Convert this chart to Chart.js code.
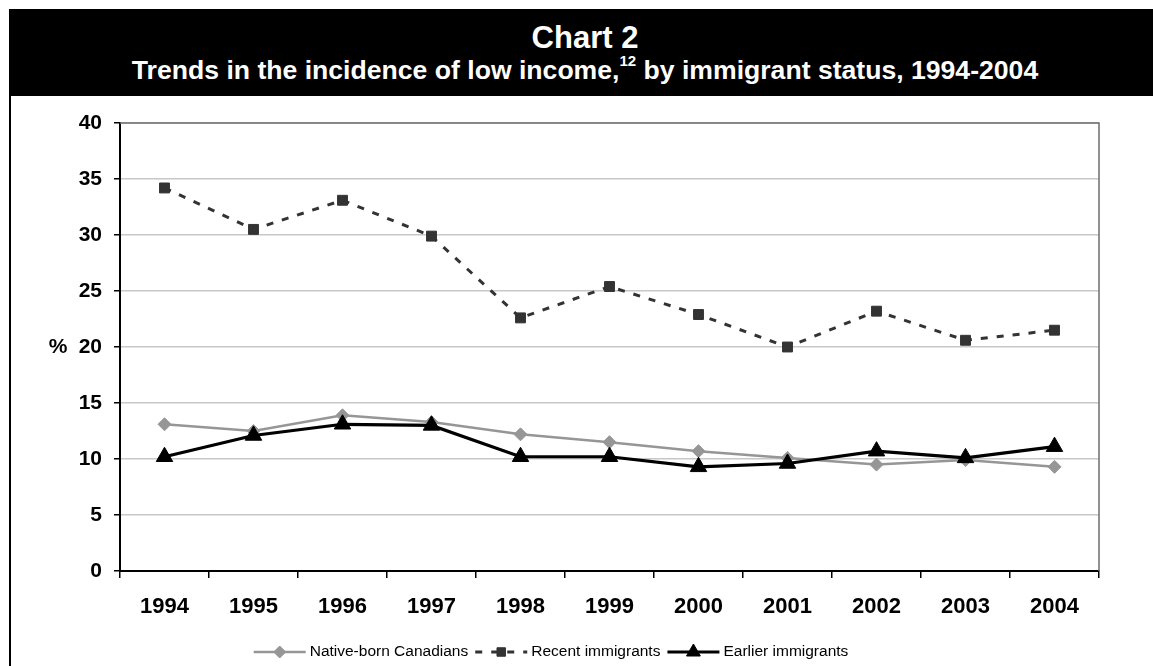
<!DOCTYPE html>
<html>
<head>
<meta charset="utf-8">
<script src="https://cdn.jsdelivr.net/npm/chart.js@4.4.1/dist/chart.umd.min.js"></script>
<style>
  html, body { margin: 0; padding: 0; background: #fff; }
  #wrap { position: relative; width: 1153px; height: 666px; overflow: hidden; font-family: "Liberation Sans", Arial, sans-serif; }
  #c { position: absolute; left: 0; top: 0; }
  #header { position: absolute; left: 9px; top: 9px; width: 1152px; height: 87px; background: #000; color: #fff; font-weight: bold; text-align: center; }
  #header .t1 { position: absolute; left: 0; width: 100%; top: 13px; font-size: 31px; line-height: 31px; white-space: nowrap; }
  #header .t2 { position: absolute; left: 0; width: 100%; top: 48px; font-size: 26.6px; line-height: 27px; white-space: nowrap; }
  #header .sup { position: relative; top: -13px; font-size: 15px; line-height: 0; }
  #leftrule { position: absolute; left: 9px; top: 96px; width: 2px; height: 570px; background: #000; }
</style>
</head>
<body>
<div id="wrap">
  <canvas id="c" width="1153" height="666"></canvas>
  <div id="header">
    <div class="t1">Chart 2</div>
    <div class="t2">Trends in the incidence of low income,<span class="sup">12</span> by immigrant status, 1994-2004</div>
  </div>
  <div id="leftrule"></div>
</div>
<script>
// Years on the horizontal axis
const years = ['1994', '1995', '1996', '1997', '1998', '1999', '2000', '2001', '2002', '2003', '2004'];

// Incidence of low income (%), by immigrant status
const nativeBorn = [13.1, 12.5, 13.9, 13.3, 12.2, 11.5, 10.7, 10.1, 9.5, 9.9, 9.3];
const recentImmigrants = [34.2, 30.5, 33.1, 29.9, 22.6, 25.4, 22.9, 20.0, 23.2, 20.6, 21.5];
const earlierImmigrants = [10.2, 12.1, 13.1, 13.0, 10.2, 10.2, 9.3, 9.6, 10.7, 10.1, 11.1];

// Series names
const seriesNames = ['Native-born Canadians', 'Recent immigrants', 'Earlier immigrants'];

const FONT = '"Liberation Sans", Arial, sans-serif';

// Grey frame on the top and right of the plot area, plus the "%" axis label
const frameAndUnit = {
  id: 'frameAndUnit',
  beforeDatasetsDraw(chart) {
    const { ctx, chartArea: a } = chart;
    ctx.save();
    ctx.strokeStyle = '#6e6e6e';
    ctx.lineWidth = 1.5;
    ctx.beginPath();
    ctx.moveTo(a.left, a.top);
    ctx.lineTo(a.right, a.top);
    ctx.lineTo(a.right, a.bottom);
    ctx.stroke();
    ctx.restore();
  },
  afterDraw(chart) {
    const { ctx } = chart;
    const y = chart.scales.y.getPixelForValue(20);
    ctx.save();
    ctx.fillStyle = '#000';
    ctx.font = 'bold 21px ' + FONT;
    ctx.textAlign = 'center';
    ctx.textBaseline = 'middle';
    ctx.fillText('%', 58, y);
    ctx.restore();
  }
};

// Legend: a short line sample with its marker, then the series name
const lineLegend = {
  id: 'lineLegend',
  afterDraw(chart, args, opts) {
    const { ctx } = chart;
    const sample = opts.sample, gap = opts.gap, spacing = opts.spacing;
    ctx.save();
    ctx.font = opts.fontSize + 'px ' + FONT;
    const items = chart.data.datasets.map(ds => ({ ds, w: ctx.measureText(ds.label).width }));
    const total = items.reduce((s, it) => s + sample + gap + it.w, 0) + spacing * (items.length - 1);
    let x = opts.centerX - total / 2;
    const y = opts.y;
    items.forEach(({ ds, w }) => {
      ctx.save();
      ctx.strokeStyle = ds.borderColor;
      ctx.lineWidth = ds.borderWidth;
      ctx.setLineDash(ds.borderDash || []);
      ctx.beginPath();
      ctx.moveTo(x, y);
      ctx.lineTo(x + sample, y);
      ctx.stroke();
      ctx.setLineDash([]);
      ctx.fillStyle = ds.pointBackgroundColor;
      ctx.strokeStyle = ds.pointBorderColor;
      ctx.lineWidth = ds.pointBorderWidth;
      Chart.helpers.drawPoint(ctx, {
        pointStyle: ds.pointStyle,
        radius: ds.legendRadius,
        rotation: 0,
        borderWidth: ds.pointBorderWidth
      }, x + sample / 2, y);
      ctx.restore();
      ctx.fillStyle = '#000';
      ctx.textAlign = 'left';
      ctx.textBaseline = 'middle';
      ctx.fillText(ds.label, x + sample + gap, y);
      x += sample + gap + w + spacing;
    });
    ctx.restore();
  }
};

new Chart(document.getElementById('c'), {
  type: 'line',
  data: {
    labels: years,
    datasets: [
      {
        label: seriesNames[0],
        data: nativeBorn,
        order: 2,
        borderColor: '#969696',
        borderWidth: 2.5,
        pointStyle: 'rectRot',
        pointRadius: 6.5,
        legendRadius: 6,
        pointBackgroundColor: '#969696',
        pointBorderColor: '#969696',
        pointBorderWidth: 1,
        tension: 0
      },
      {
        label: seriesNames[1],
        data: recentImmigrants,
        order: 1,
        borderColor: '#333333',
        borderWidth: 3,
        borderDash: [7, 9],
        pointStyle: 'rect',
        pointRadius: 7,
        legendRadius: 6,
        pointBackgroundColor: '#333333',
        pointBorderColor: '#333333',
        pointBorderWidth: 1,
        tension: 0
      },
      {
        label: seriesNames[2],
        data: earlierImmigrants,
        order: 0,
        borderColor: '#000000',
        borderWidth: 3.2,
        pointStyle: 'triangle',
        pointRadius: 9.5,
        legendRadius: 8,
        pointBackgroundColor: '#000000',
        pointBorderColor: '#000000',
        pointBorderWidth: 1,
        tension: 0
      }
    ]
  },
  options: {
    responsive: false,
    animation: false,
    events: [],
    layout: { padding: { left: 0, right: 54, top: 123, bottom: 45 } },
    plugins: {
      legend: { display: false },
      title: { display: false },
      tooltip: { enabled: false },
      lineLegend: { centerX: 551, y: 652, sample: 52, gap: 4, spacing: 7, fontSize: 15.5 }
    },
    scales: {
      x: {
        type: 'category',
        offset: true,
        grid: { offset: true, drawOnChartArea: false, drawTicks: true, tickLength: 7, color: '#000', lineWidth: 1.5 },
        border: { color: '#000', width: 2 },
        ticks: { color: '#000', font: { family: FONT, size: 22, weight: 'bold' }, padding: 16, maxRotation: 0, autoSkip: false },
        afterFit(s) { s.height = 50; }
      },
      y: {
        min: 0,
        max: 40,
        ticks: { stepSize: 5, color: '#000', font: { family: FONT, size: 21, weight: 'bold' }, padding: 12 },
        grid: { color: '#c8c8c8', lineWidth: 1.5, drawTicks: true, tickLength: 6, tickColor: '#000' },
        border: { color: '#000', width: 2 },
        afterFit(s) { s.width = 120; }
      }
    }
  },
  plugins: [frameAndUnit, lineLegend]
});
</script>
</body>
</html>
